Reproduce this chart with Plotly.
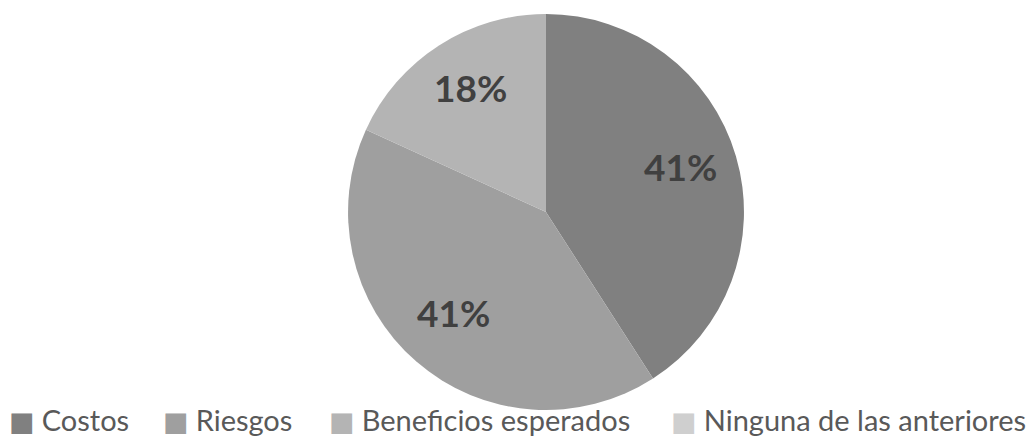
import math
import plotly.graph_objects as go

# Survey answers and their counts
categories = ["Costos", "Riesgos", "Beneficios esperados", "Ninguna de las anteriores"]
counts = [9, 9, 4, 0]
slice_colors = ["#808080", "#9f9f9f", "#b4b4b4", "#cfcfcf"]

W, H = 1034, 438
pie_x = [0.3366, 0.7195]
pie_y = [0.064, 0.968]

fig = go.Figure(
    go.Pie(
        labels=categories,
        values=counts,
        marker=dict(colors=slice_colors, line=dict(width=0)),
        sort=False,
        direction="clockwise",
        rotation=0,
        textinfo="none",
        domain=dict(x=pie_x, y=pie_y),
        hoverinfo="label+percent",
        showlegend=False,
    )
)

# Percentage labels placed along each slice's bisector
total = sum(counts)
cx = (pie_x[0] + pie_x[1]) / 2
cy = (pie_y[0] + pie_y[1]) / 2
r_px = min((pie_x[1] - pie_x[0]) * W, (pie_y[1] - pie_y[0]) * H) / 2
label_r = 0.71 * r_px
start = 0.0
for cat, c in zip(categories, counts):
    frac = c / total
    if c > 0:
        mid = (start + frac / 2) * 2 * math.pi
        fig.add_annotation(
            x=cx + label_r * math.sin(mid) / W,
            y=cy + label_r * math.cos(mid) / H,
            xref="paper", yref="paper",
            text=f"{round(frac * 100)}%",
            showarrow=False,
            font=dict(family="Lato", size=37, color="#404040", weight="bold"),
            xanchor="center", yanchor="middle",
            yshift=6,
        )
    start += frac

# Legend row along the bottom
legend_left_px = [8, 162, 328, 670]
for cat, col, lx in zip(categories, slice_colors, legend_left_px):
    fig.add_annotation(
        x=lx / W, y=0.0,
        xref="paper", yref="paper",
        text=f'<span style="color:{col};font-family:DejaVu Sans;font-size:27px">■</span>\u2009\u2009{cat}',
        showarrow=False,
        font=dict(family="Lato", size=29, color="#595959"),
        xanchor="left", yanchor="bottom",
        borderpad=0,
    )

fig.update_layout(
    width=W,
    height=H,
    margin=dict(l=0, r=0, t=0, b=0),
    paper_bgcolor="white",
    plot_bgcolor="white",
    showlegend=False,
)

fig.write_html("out.html")
